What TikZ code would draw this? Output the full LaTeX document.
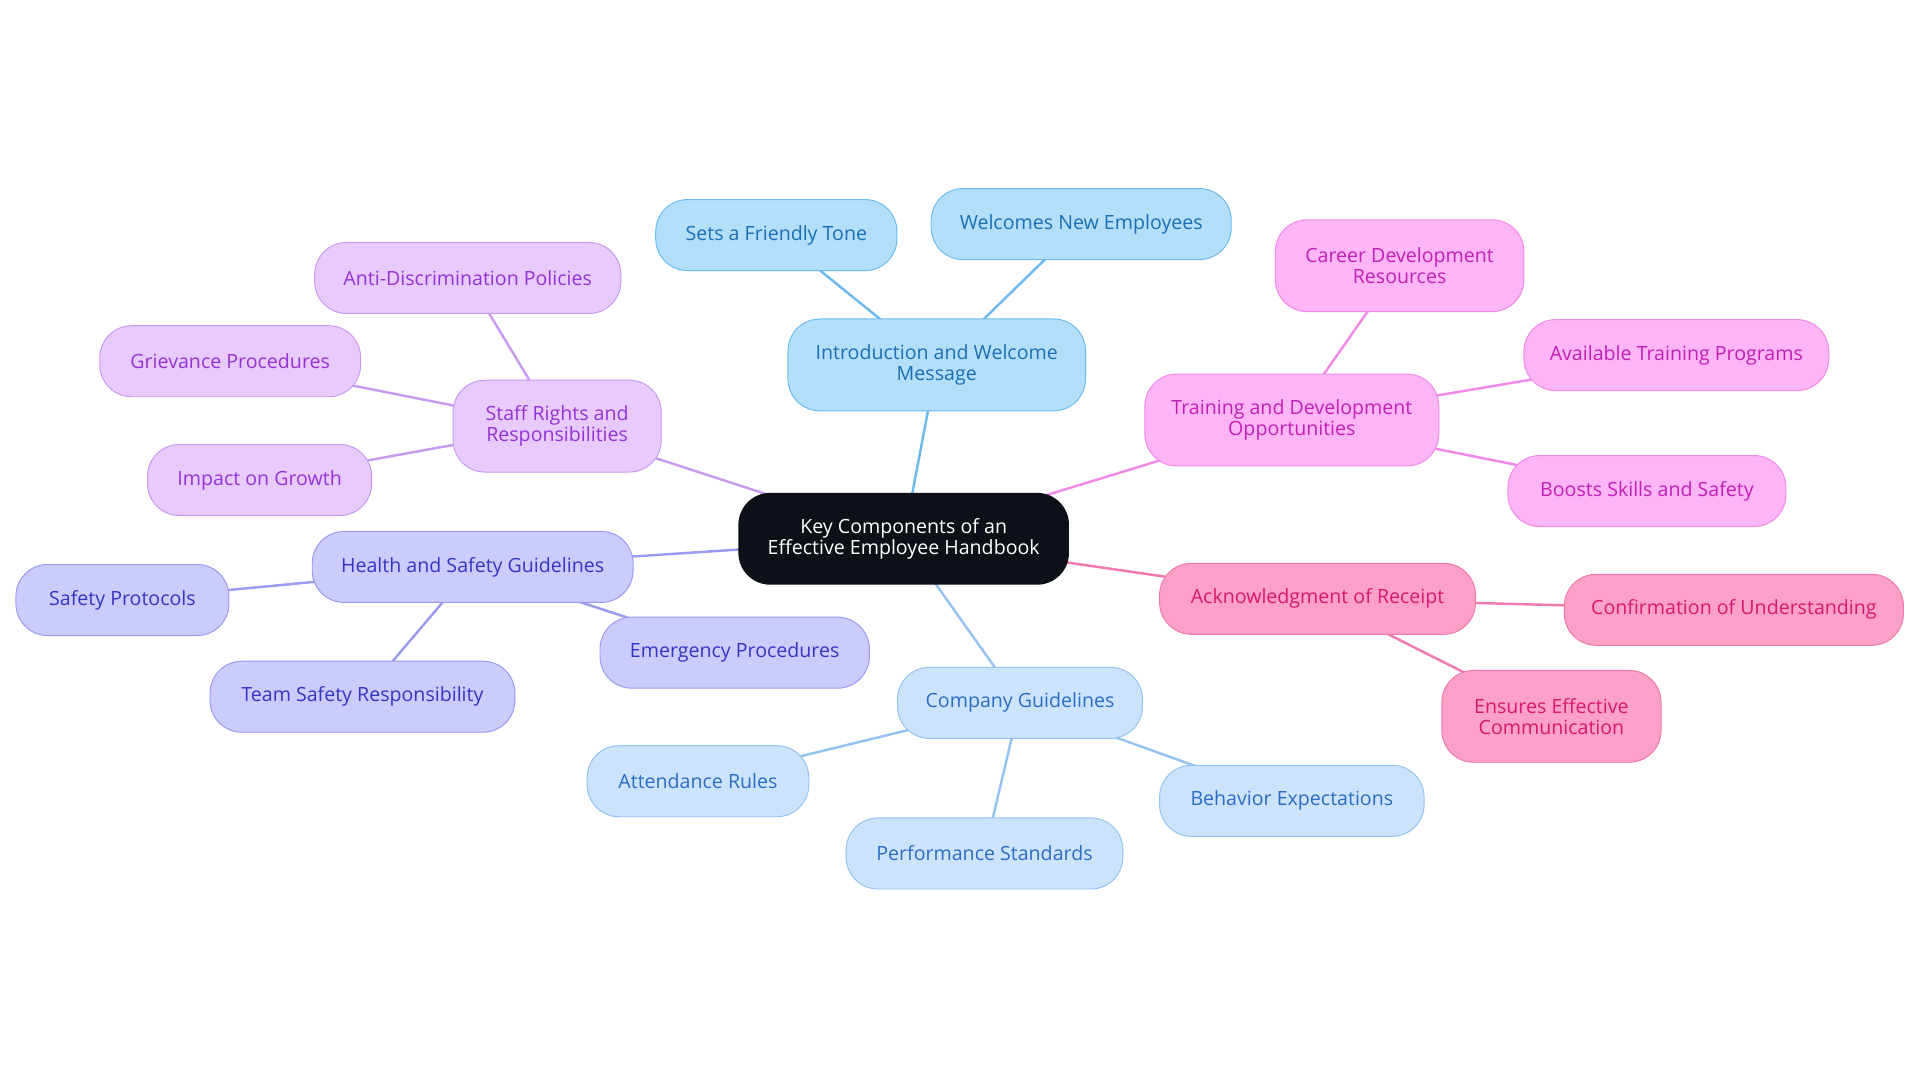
\documentclass[tikz,border=0pt]{standalone}
\usepackage{fontspec}
\setmainfont{Open Sans}
\usetikzlibrary{backgrounds}
\definecolor{rootbg}{HTML}{0D1117}
\definecolor{introbg}{HTML}{B3DFFA}\definecolor{introtx}{HTML}{1A6FB5}\definecolor{introln}{HTML}{6CBAF0}
\definecolor{trainbg}{HTML}{FDB5F5}\definecolor{traintx}{HTML}{C21FB6}\definecolor{trainln}{HTML}{F08AE6}
\definecolor{ackbg}{HTML}{FDA0C8}\definecolor{acktx}{HTML}{D6186E}\definecolor{ackln}{HTML}{F07AAE}
\definecolor{compbg}{HTML}{CCE3FC}\definecolor{comptx}{HTML}{2B6CC4}\definecolor{compln}{HTML}{94C2F2}
\definecolor{hsbg}{HTML}{CBCBFC}\definecolor{hstx}{HTML}{3535C4}\definecolor{hsln}{HTML}{9A9AF0}
\definecolor{staffbg}{HTML}{E8CAFC}\definecolor{stafftx}{HTML}{9333D6}\definecolor{staffln}{HTML}{C89AF0}
\tikzset{
  box/.style={rounded corners=26pt, align=center, inner sep=0pt, minimum height=58pt,
    font=\fontsize{16}{17}\selectfont, line width=0.8pt},
  tall/.style={minimum height=75pt},
  intro/.style={box, fill=introbg, draw=introln, text=introtx},
  train/.style={box, fill=trainbg, draw=trainln, text=traintx},
  ack/.style={box, fill=ackbg, draw=ackln, text=acktx},
  comp/.style={box, fill=compbg, draw=compln, text=comptx},
  hs/.style={box, fill=hsbg, draw=hsln, text=hstx},
  staff/.style={box, fill=staffbg, draw=staffln, text=stafftx},
  link/.style={line width=2pt},
}
\begin{document}
\begin{tikzpicture}[x=1pt,y=-1pt]
  \useasboundingbox (0,0) rectangle (1568,884);
  % centre
  \node[box, tall, fill=rootbg, text=white, minimum width=270pt] (root) at (738,440) {Key Components of an\\Effective Employee Handbook};

  % introduction
  \node[intro, tall, minimum width=243pt] (intro) at (765,298) {Introduction and Welcome\\Message};
  \node[intro, minimum width=197pt] (tone) at (634,192) {Sets a Friendly Tone};
  \node[intro, minimum width=245pt] (welcome) at (883,183) {Welcomes New Employees};

  % training
  \node[train, tall, minimum width=240pt] (train) at (1055,343) {Training and Development\\Opportunities};
  \node[train, tall, minimum width=203pt] (career) at (1143,217) {Career Development\\Resources};
  \node[train, minimum width=249pt] (avail) at (1369,290) {Available Training Programs};
  \node[train, minimum width=227pt] (boost) at (1345,401) {Boosts Skills and Safety};

  % acknowledgment
  \node[ack, minimum width=258pt] (ack) at (1076,489) {Acknowledgment of Receipt};
  \node[ack, minimum width=277pt] (confirm) at (1416,498) {Confirmation of Understanding};
  \node[ack, tall, minimum width=179pt] (ensure) at (1267,585) {Ensures Effective\\Communication};

  % company guidelines
  \node[comp, minimum width=200pt] (comp) at (833,574) {Company Guidelines};
  \node[comp, minimum width=181pt] (attend) at (570,638) {Attendance Rules};
  \node[comp, minimum width=226pt] (perf) at (804,697) {Performance Standards};
  \node[comp, minimum width=216pt] (behav) at (1055,654) {Behavior Expectations};

  % health and safety
  \node[hs, minimum width=262pt] (hs) at (386,463) {Health and Safety Guidelines};
  \node[hs, minimum width=174pt] (proto) at (100,490) {Safety Protocols};
  \node[hs, minimum width=249pt] (team) at (296,569) {Team Safety Responsibility};
  \node[hs, minimum width=220pt] (emerg) at (600,533) {Emergency Procedures};

  % staff rights
  \node[staff, tall, minimum width=170pt] (staff) at (455,348) {Staff Rights and\\Responsibilities};
  \node[staff, minimum width=250pt] (anti) at (382,227) {Anti-Discrimination Policies};
  \node[staff, minimum width=213pt] (griev) at (188,295) {Grievance Procedures};
  \node[staff, minimum width=183pt] (growth) at (212,392) {Impact on Growth};

  \begin{scope}[on background layer]
    \draw[link, introln] (root.center) -- (intro.center) (intro.center) -- (tone.center) (intro.center) -- (welcome.center);
    \draw[link, trainln] (root.center) -- (train.center) (train.center) -- (career.center) (train.center) -- (avail.center) (train.center) -- (boost.center);
    \draw[link, ackln] (root.center) -- (ack.center) (ack.center) -- (confirm.center) (ack.center) -- (ensure.center);
    \draw[link, compln] (root.center) -- (comp.center) (comp.center) -- (attend.center) (comp.center) -- (perf.center) (comp.center) -- (behav.center);
    \draw[link, hsln] (root.center) -- (hs.center) (hs.center) -- (proto.center) (hs.center) -- (team.center) (hs.center) -- (emerg.center);
    \draw[link, staffln] (root.center) -- (staff.center) (staff.center) -- (anti.center) (staff.center) -- (griev.center) (staff.center) -- (growth.center);
  \end{scope}
\end{tikzpicture}
\end{document}
